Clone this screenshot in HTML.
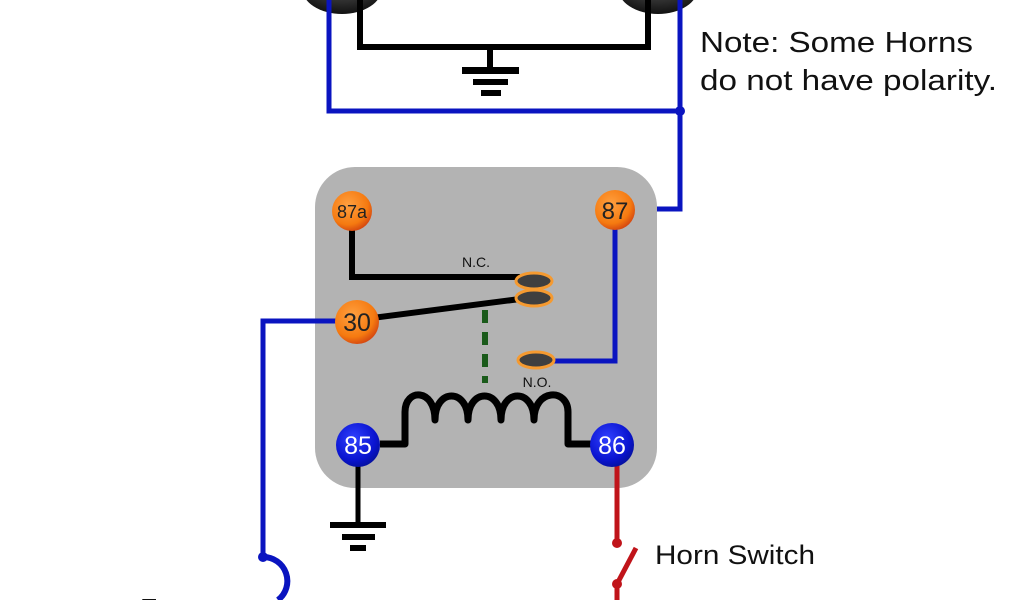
<!DOCTYPE html>
<html><head><meta charset="utf-8"><style>
html,body{margin:0;padding:0;background:#fff;width:1024px;height:600px;overflow:hidden}
svg{display:block}
text{font-family:"Liberation Sans",sans-serif}
</style></head><body>
<svg width="1024" height="600" viewBox="0 0 1024 600" xmlns="http://www.w3.org/2000/svg">
<defs>
<radialGradient id="og" cx="0.4" cy="0.35" r="0.7"><stop offset="0" stop-color="#ffa040"/><stop offset="0.7" stop-color="#f57a10"/><stop offset="1" stop-color="#d04010"/></radialGradient>
<radialGradient id="bg" cx="0.4" cy="0.35" r="0.7"><stop offset="0" stop-color="#3040ff"/><stop offset="0.7" stop-color="#0a14d0"/><stop offset="1" stop-color="#05109a"/></radialGradient>
<radialGradient id="hg" cx="0.5" cy="0.3" r="0.7"><stop offset="0" stop-color="#666"/><stop offset="1" stop-color="#111"/></radialGradient>
</defs>
<ellipse cx="342" cy="-12" rx="40" ry="26" fill="url(#hg)"/>
<ellipse cx="658" cy="-12" rx="40" ry="26" fill="url(#hg)"/>
<polyline points="360,0 360,47 648,47 648,0" fill="none" stroke="#000" stroke-width="6"/>
<line x1="490" y1="47" x2="490" y2="70" stroke="#000" stroke-width="6"/>
<rect x="462" y="67" width="57" height="7" fill="#000"/>
<rect x="473" y="79" width="35" height="6" fill="#000"/>
<rect x="481" y="90" width="20" height="6" fill="#000"/>
<polyline points="329,0 329,111 680,111" fill="none" stroke="#0a14c0" stroke-width="5"/>
<polyline points="680,0 680,209 630,209" fill="none" stroke="#0a14c0" stroke-width="5"/>
<circle cx="680" cy="111" r="5" fill="#0a14c0"/>
<text x="700" y="52" font-size="29" fill="#111" textLength="273" lengthAdjust="spacingAndGlyphs">Note: Some Horns</text>
<text x="700" y="90" font-size="29" fill="#111" textLength="297" lengthAdjust="spacingAndGlyphs">do not have polarity.</text>
<rect x="315" y="167" width="342" height="321" rx="40" fill="#b3b3b3"/>
<polyline points="352,225 352,277 520,277" fill="none" stroke="#000" stroke-width="6"/>
<line x1="372" y1="318" x2="520" y2="299" stroke="#000" stroke-width="6"/>
<line x1="485" y1="310" x2="485" y2="383" stroke="#1a5a1a" stroke-width="6" stroke-dasharray="13,9"/>
<polyline points="615,225 615,361 552,361" fill="none" stroke="#0a14c0" stroke-width="5"/>
<path d="M380,444 H405 V412 C405,388 435,388 435,420 C435,388 468,388 468,420 C468,388 501,388 501,420 C501,388 534,388 534,420 C534,388 568,388 568,412 V444 H592" fill="none" stroke="#000" stroke-width="7" stroke-linejoin="round"/>
<text x="476" y="267" font-size="14" fill="#111" text-anchor="middle">N.C.</text>
<text x="537" y="387" font-size="14" fill="#111" text-anchor="middle">N.O.</text>
<ellipse cx="534" cy="281" rx="18" ry="8" fill="#3f3f3f" stroke="#f59a30" stroke-width="3"/>
<ellipse cx="534" cy="298" rx="18" ry="8" fill="#3f3f3f" stroke="#f59a30" stroke-width="3"/>
<ellipse cx="536" cy="360" rx="18" ry="8" fill="#3f3f3f" stroke="#f59a30" stroke-width="3"/>
<polyline points="337,321 263,321 263,557" fill="none" stroke="#0a14c0" stroke-width="5"/>
<circle cx="263" cy="557" r="5" fill="#0a14c0"/>
<path d="M263,557 A24,24 0 0 1 278,600" fill="none" stroke="#0a14c0" stroke-width="6"/>
<line x1="358" y1="462" x2="358" y2="526" stroke="#000" stroke-width="5"/>
<rect x="330" y="522" width="56" height="6" fill="#000"/>
<rect x="342" y="534" width="33" height="6" fill="#000"/>
<rect x="350" y="545" width="16" height="6" fill="#000"/>
<line x1="617" y1="462" x2="617" y2="543" stroke="#c0141a" stroke-width="5"/>
<circle cx="617" cy="543" r="5" fill="#c0141a"/>
<line x1="617" y1="584" x2="636" y2="548" stroke="#c0141a" stroke-width="5"/>
<circle cx="617" cy="584" r="5" fill="#c0141a"/>
<line x1="617" y1="584" x2="617" y2="600" stroke="#c0141a" stroke-width="5"/>
<text x="655" y="564" font-size="27" fill="#111" textLength="160" lengthAdjust="spacingAndGlyphs">Horn Switch</text>
<text x="140" y="618" font-size="28" fill="#111">Fuse</text>
<circle cx="352" cy="211" r="20" fill="url(#og)"/>
<text x="352" y="218" font-size="18" text-anchor="middle" fill="#222">87a</text>
<circle cx="615" cy="210" r="20" fill="url(#og)"/>
<text x="615" y="219" font-size="24" text-anchor="middle" fill="#222">87</text>
<circle cx="357" cy="322" r="22" fill="url(#og)"/>
<text x="357" y="331" font-size="25" text-anchor="middle" fill="#222">30</text>
<circle cx="358" cy="445" r="22" fill="url(#bg)"/>
<text x="358" y="454" font-size="25" text-anchor="middle" fill="#fff">85</text>
<circle cx="612" cy="445" r="22" fill="url(#bg)"/>
<text x="612" y="454" font-size="25" text-anchor="middle" fill="#fff">86</text>
</svg>
</body></html>
